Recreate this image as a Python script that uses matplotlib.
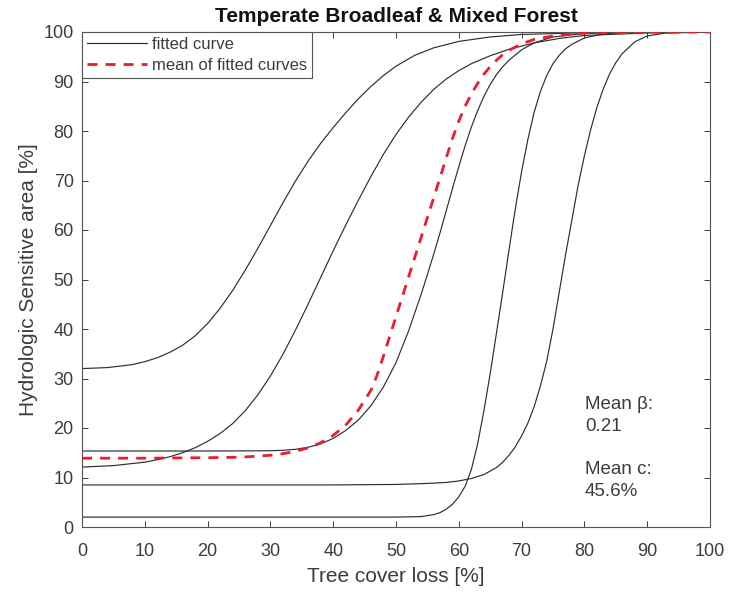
import matplotlib
matplotlib.use("Agg")
import matplotlib.pyplot as plt

# Fitted logistic curves: tree cover loss [%] -> hydrologic sensitive area [%]
loss_a = [0, 4, 8, 10, 12, 14, 16, 18, 20, 22, 24, 26, 28, 30, 32, 34, 36, 38,
          40, 42, 44, 46, 48, 50, 53, 56, 60, 65, 70, 80, 90, 100]
hsa_a = [32.0, 32.2, 32.8, 33.4, 34.2, 35.3, 36.7, 38.6, 41.1, 44.2, 47.8, 51.9,
         56.3, 60.9, 65.5, 69.9, 73.9, 77.5, 80.7, 83.7, 86.5, 89.0, 91.2, 93.1,
         95.3, 96.8, 98.1, 99.0, 99.5, 99.85, 99.95, 100.0]

loss_b = [0, 5, 10, 12, 14, 16, 18, 20, 22, 24, 26, 28, 30, 32, 34, 36, 38, 40,
          42, 44, 46, 48, 50, 52, 54, 56, 58, 60, 62, 65, 68, 72, 76, 80, 90, 100]
hsa_b = [12.1, 12.4, 13.1, 13.6, 14.2, 15.0, 16.0, 17.3, 18.9, 20.9, 23.5, 26.7,
         30.5, 34.9, 39.8, 45.0, 50.4, 55.8, 61.0, 66.0, 70.8, 75.3, 79.3, 82.8,
         85.8, 88.4, 90.5, 92.2, 93.6, 95.2, 96.5, 97.8, 98.7, 99.3, 99.8, 100.0]

loss_c = [0, 20, 30, 32, 34, 36, 38, 40, 42, 44, 46, 48, 50, 52, 54, 55, 56, 57,
          58, 59, 60, 61, 62, 63, 64, 65, 66, 67, 68, 70, 72, 75, 80, 88, 100]
hsa_c = [15.35, 15.35, 15.4, 15.5, 15.7, 16.1, 16.8, 17.9, 19.5, 21.6, 24.5, 28.3,
         33.2, 39.6, 47.0, 51.0, 55.1, 59.4, 63.9, 68.4, 72.8, 77.0, 80.8, 84.1,
         87.0, 89.4, 91.4, 93.0, 94.3, 96.4, 97.8, 99.0, 99.7, 100.0, 100.0]

loss_d = [0, 40, 50, 55, 58, 60, 62, 64, 66, 67, 68, 69, 70, 71, 72, 73, 74, 75,
          76, 77, 78, 79, 80, 81, 82, 83, 84, 85, 86, 88, 90, 93, 100]
hsa_d = [8.5, 8.5, 8.6, 8.8, 9.0, 9.3, 9.8, 10.6, 12.0, 13.1, 14.5, 16.2, 18.4,
         21.0, 24.3, 28.5, 33.5, 40.0, 47.5, 55.0, 62.0, 69.0, 75.0, 80.3, 84.8,
         88.5, 91.5, 93.8, 95.6, 98.0, 99.2, 99.8, 100.0]

loss_e = [0, 50, 54, 56, 57, 58, 59, 60, 61, 62, 63, 64, 65, 66, 67, 68, 69, 70,
          71, 72, 73, 74, 75, 76, 77, 78, 80, 83, 86, 90, 100]
hsa_e = [2.0, 2.0, 2.1, 2.5, 2.9, 3.6, 4.6, 6.1, 8.2, 11.6, 16.8, 23.5, 31.0,
         39.2, 47.5, 56.0, 64.3, 71.8, 78.3, 83.8, 88.0, 91.2, 93.6, 95.3, 96.6,
         97.5, 98.8, 99.6, 99.9, 100.0, 100.0]

# Curve built from the mean fitted parameters
loss_mean = [0, 10, 20, 25, 28, 30, 32, 34, 36, 38, 40, 42, 44, 46, 47, 48, 49,
             50, 51, 52, 53, 54, 55, 56, 57, 58, 59, 60, 61, 62, 63, 64, 65, 66,
             67, 68, 70, 72, 75, 80, 90, 100]
hsa_mean = [13.9, 13.9, 14.0, 14.1, 14.3, 14.5, 14.8, 15.3, 16.0, 17.0, 18.5,
            20.6, 23.6, 27.6, 30.7, 34.5, 38.5, 42.5, 46.5, 50.5, 54.5, 58.5,
            62.5, 66.5, 70.5, 74.6, 78.5, 82.0, 85.0, 87.5, 89.6, 91.5, 93.0,
            94.3, 95.4, 96.3, 97.6, 98.5, 99.2, 99.8, 100.0, 100.0]

mean_beta = 0.21
mean_c = 45.6

x_ticks = list(range(0, 101, 10))
y_ticks = list(range(0, 101, 10))

plt.rcParams['font.family'] = ['Liberation Sans', 'DejaVu Sans']
ink = '#3c3c3c'

fig = plt.figure(figsize=(7.30, 5.94), dpi=100)
ax = fig.add_axes([82 / 730, 1 - 527 / 594, 628 / 730, 495 / 594])

fitted = [(loss_a, hsa_a), (loss_b, hsa_b), (loss_c, hsa_c),
          (loss_d, hsa_d), (loss_e, hsa_e)]
for i, (xs, ys) in enumerate(fitted):
    ax.plot(xs, ys, color='#2e2e2e', lw=0.85,
            label='fitted curve' if i == 0 else None, zorder=2)

ax.plot(loss_mean, hsa_mean, color='#ec1b2e', lw=2.0, dashes=(3.6, 2.9),
        label='mean of fitted curves', zorder=3)

ax.set_xlim(0, 100)
ax.set_ylim(0, 100)
ax.set_xticks(x_ticks)
ax.set_yticks(y_ticks)
ax.tick_params(direction='in', top=True, right=True, length=4.5, width=0.7,
               colors=ink, labelsize=13, pad=6)
ax.tick_params(axis='x', pad=11.5)
for sp in ax.spines.values():
    sp.set_color('#555555')
    sp.set_linewidth(0.8)

ax.set_title('Temperate Broadleaf & Mixed Forest', fontsize=15,
             fontweight='bold', color='#111111', pad=7.5)
ax.set_xlabel('Tree cover loss [%]', fontsize=15, color=ink, labelpad=5)
ax.set_ylabel('Hydrologic Sensitive area [%]', fontsize=15, color=ink,
              labelpad=4)

ax.text(80.1, 22.5, f'Mean \u03b2:\n{mean_beta:.2f}', fontsize=13.5,
        color=ink, va='center', ha='left', linespacing=1.35)
ax.text(80.1, 9.4, f'Mean c:\n{mean_c:.1f}%', fontsize=13.5,
        color=ink, va='center', ha='left', linespacing=1.35)

leg = ax.legend(loc='upper left', bbox_to_anchor=(0, 1), borderaxespad=0,
                fontsize=12, frameon=True, fancybox=False, framealpha=1,
                edgecolor='#555555', handlelength=3.6, handletextpad=0.3,
                borderpad=0.3, labelspacing=0.35)
leg.get_frame().set_linewidth(0.8)
for t in leg.get_texts():
    t.set_color(ink)

fig.savefig('out.png', dpi=100)
